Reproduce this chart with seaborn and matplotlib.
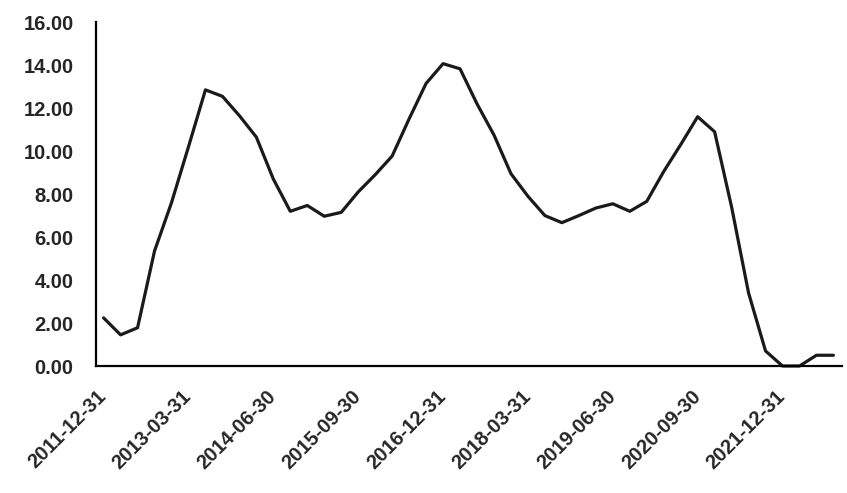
import matplotlib
matplotlib.use('Agg')
import matplotlib.pyplot as plt
import numpy as np
import pandas as pd
import seaborn as sns

# quarter-end dates, 2011Q4 .. 2022Q3
dates = pd.date_range('2011-12-31', '2022-09-30', freq='QE').strftime('%Y-%m-%d').tolist()

values = [2.24, 1.45, 1.78, 5.35, 7.60, 10.20, 12.85, 12.55, 11.65, 10.65,
          8.70, 7.20, 7.47, 6.97, 7.15, 8.10, 8.90, 9.77, 11.50, 13.15,
          14.07, 13.83, 12.20, 10.75, 8.95, 7.90, 7.00, 6.67, 7.00, 7.35,
          7.55, 7.20, 7.66, 9.05, 10.30, 11.60, 10.90, 7.40, 3.40, 0.70,
          0.00, 0.00, 0.50, 0.50]

yticks = np.arange(0, 17, 2)

df = pd.DataFrame({'date': dates, 'value': values})

sns.set_style('white')
plt.rcParams['font.family'] = ['Liberation Sans', 'DejaVu Sans']

fig = plt.figure(figsize=(8.47, 4.93), dpi=100)
ax = fig.add_axes([0.1133, 0.2576, 0.8807, 0.6974])

sns.lineplot(data=df, x='date', y='value', ax=ax, color='#1a1a1a', linewidth=2.3,
             sort=False, clip_on=False)

ax.set_xlim(-0.45, len(dates) - 0.5)
ax.set_ylim(0, 16)
ax.set_yticks(yticks)
ax.set_yticklabels([f'{v:.2f}' for v in yticks], fontsize=14.5, fontweight='bold')

tick_pos = np.arange(0, len(dates), 5)
ax.set_xticks(tick_pos)
ax.set_xticklabels([dates[i] for i in tick_pos], rotation=45, ha='right', va='center',
                   rotation_mode='anchor', fontsize=14.5, fontweight='bold')
ax.tick_params(axis='both', length=0)
ax.tick_params(axis='y', pad=16)
ax.tick_params(axis='x', pad=20)

ax.set_xlabel('')
ax.set_ylabel('')
for side in ['top', 'right']:
    ax.spines[side].set_visible(False)
for side in ['left', 'bottom']:
    ax.spines[side].set_color('black')
    ax.spines[side].set_linewidth(1.6)

fig.savefig('out.png', dpi=100)
